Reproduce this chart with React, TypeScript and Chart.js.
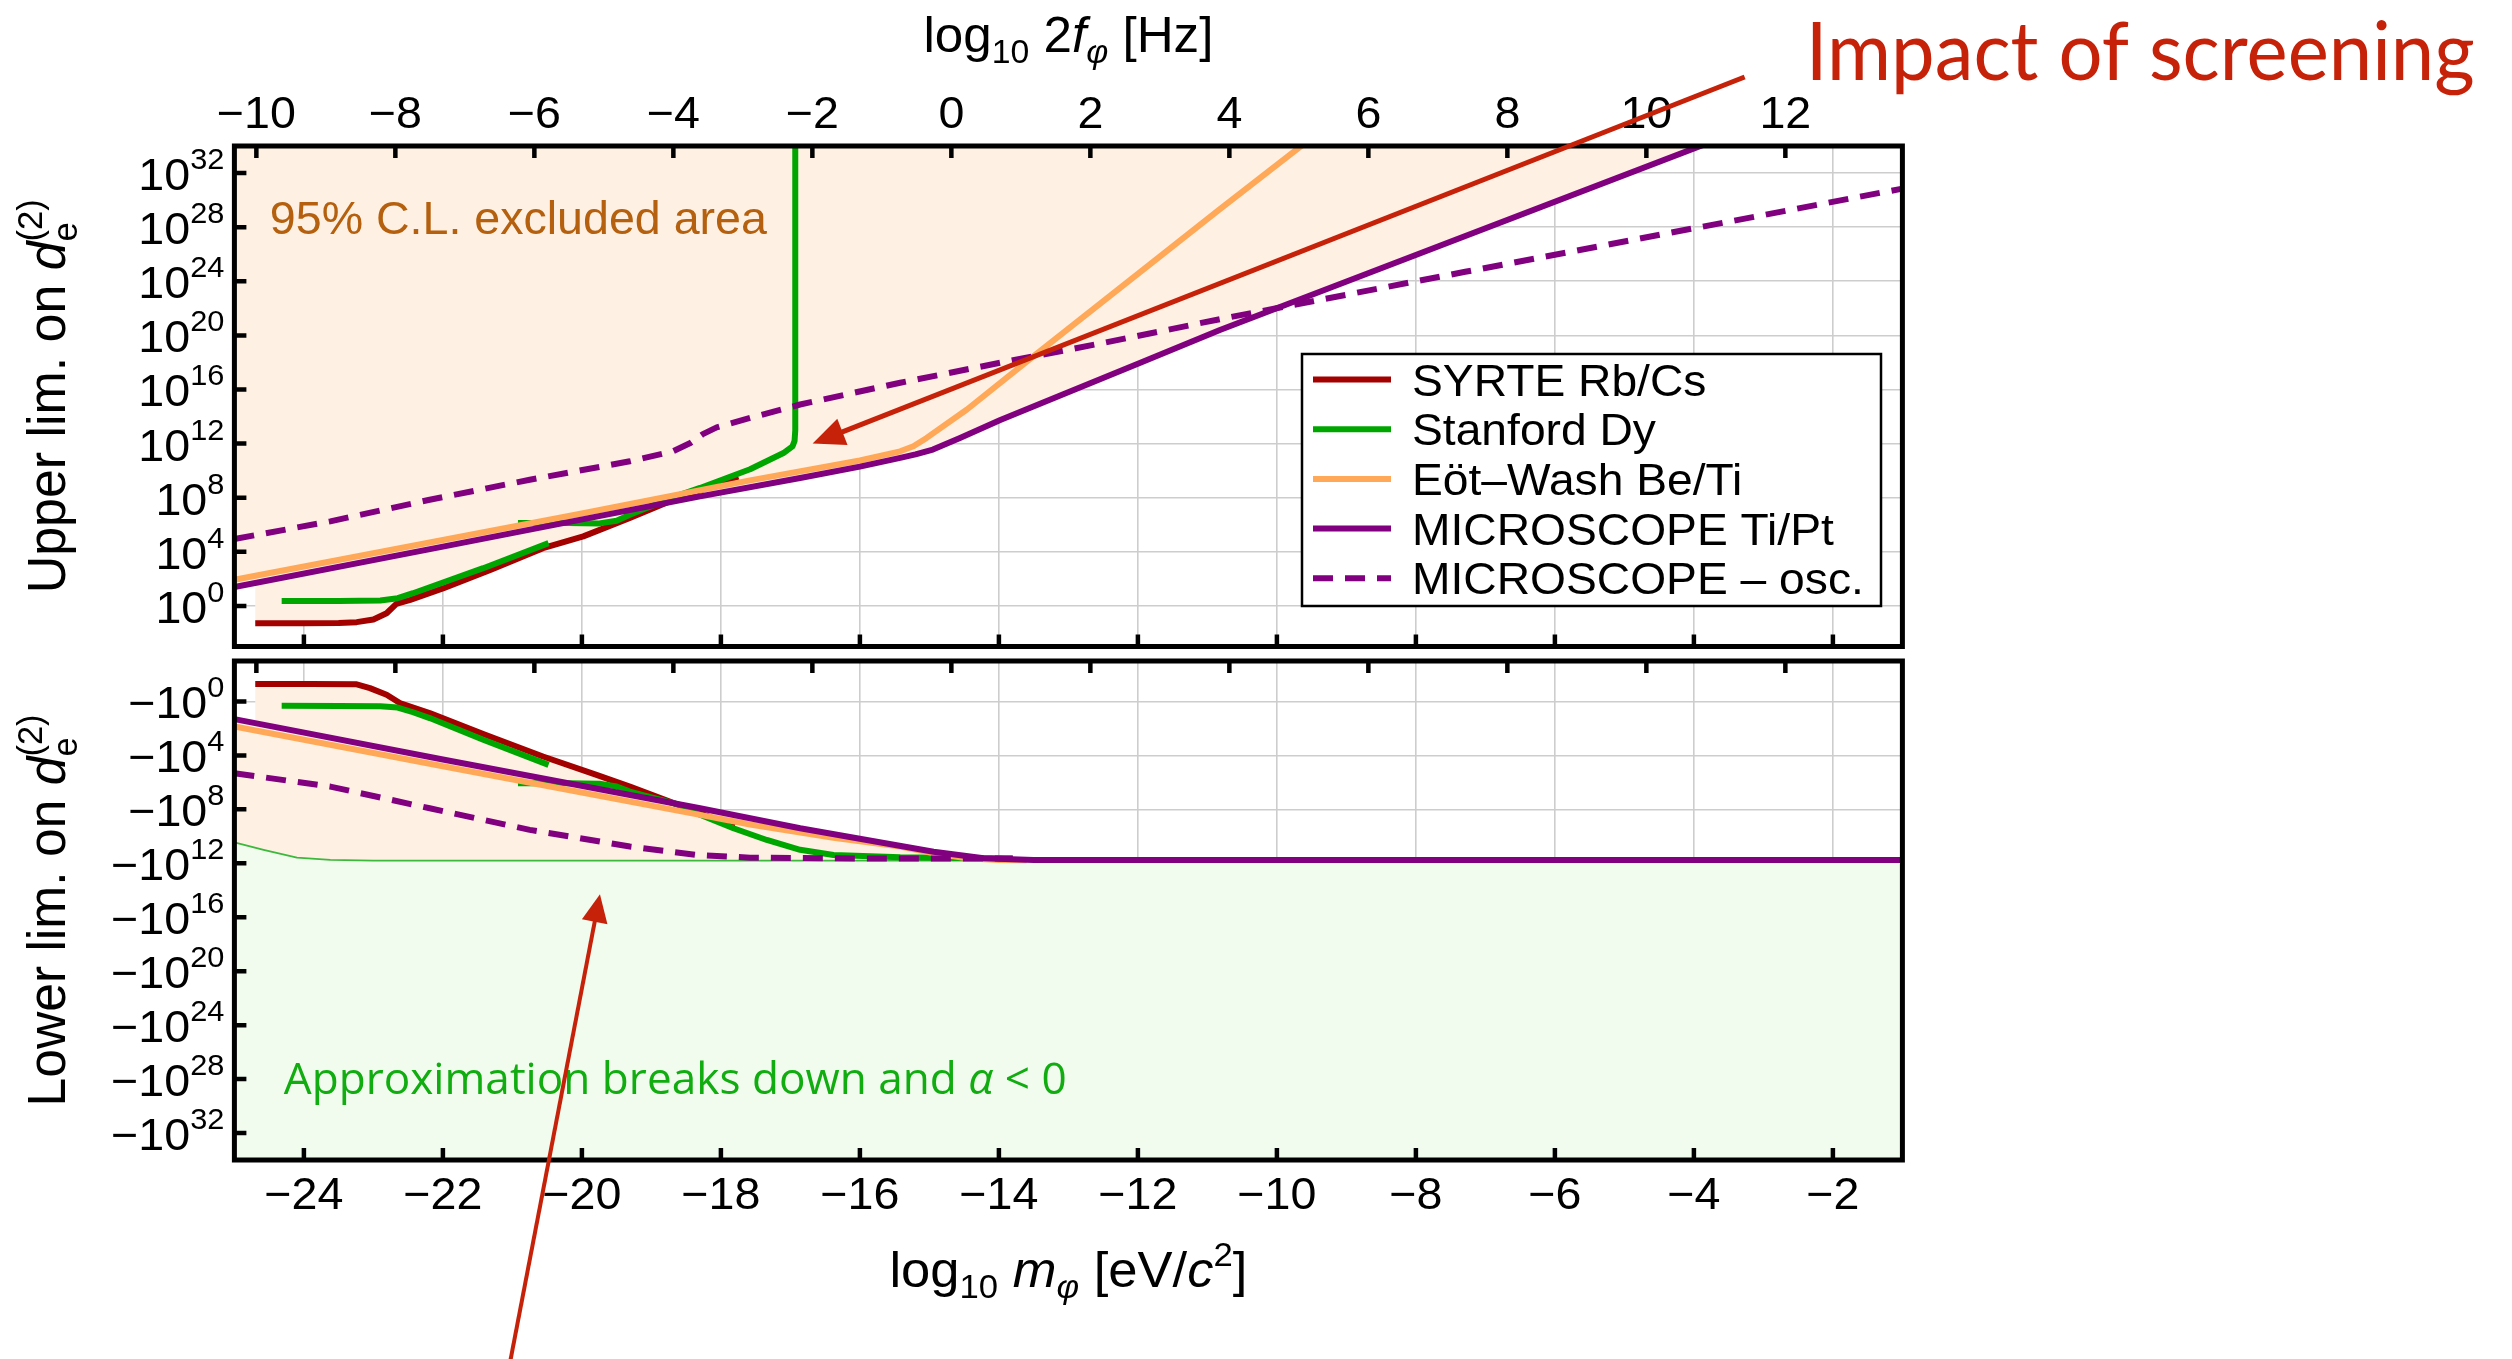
import React, { useEffect, useRef } from 'react';
import { Chart, registerables } from 'chart.js';

Chart.register(...registerables);

const W = 2512;
const H = 1359;

// ---------------- DATA ----------------
// x: log10 m_phi [eV/c^2]; y: exponent n of |d_e^(2)| = 10^n
const syrteUpper: [number, number][] = [
  [-24.7, -1.28], [-24.0, -1.28], [-23.5, -1.27], [-23.24, -1.2], [-23.0, -1.0], [-22.81, -0.54],
  [-22.67, 0.15], [-22.47, 0.45], [-21.99, 1.31], [-21.3, 2.7], [-20.56, 4.27], [-19.98, 5.14],
  [-19.31, 6.5], [-18.68, 7.85], [-17.87, 9.33], [-17.75, 9.55],
];
const stanfordUpperA: [number, number][] = [
  [-24.32, 0.37], [-23.5, 0.37], [-22.9, 0.4], [-22.65, 0.57], [-22.43, 0.94], [-22.19, 1.38],
  [-21.42, 2.79], [-20.48, 4.64],
];
const stanfordUpperB: [number, number][] = [
  [-20.92, 6.13], [-20.2, 6.13], [-19.75, 6.1], [-19.5, 6.3], [-19.31, 6.74], [-18.59, 8.22],
  [-18.3, 8.72], [-17.58, 10.1], [-17.1, 11.3], [-16.97, 11.8], [-16.94, 12.2], [-16.93, 13], [-16.93, 35],
];
const eotWashUpper: [number, number][] = [
  [-25, 1.93], [-22, 4.87], [-20, 6.83], [-17.58, 9.28], [-16, 10.75], [-15.42, 11.43], [-15.23, 11.8],
  [-15.04, 12.42], [-14.46, 14.52], [-13.5, 18.47], [-10.82, 29.33], [-9.5, 34.6],
];
const microscopeUpper: [number, number][] = [
  [-25, 1.4], [-22, 4.38], [-18.3, 8.1], [-16.86, 9.46], [-16, 10.3], [-15.42, 10.94], [-15.2, 11.2],
  [-14.95, 11.56], [-14.56, 12.42], [-13.98, 13.75], [-12, 17.9], [-10.82, 20.4], [-3.5, 34.8],
];
const microscopeOscUpper: [number, number][] = [
  [-25, 4.95], [-23.62, 6.25], [-22.19, 7.85], [-20.75, 9.33], [-19.31, 10.69], [-18.69, 11.43],
  [-18.44, 12.04], [-18.26, 12.7], [-18.06, 13.2], [-17.58, 13.9], [-16.86, 14.89], [-15.42, 16.5],
  [-13.98, 17.98], [-12.54, 19.4], [-10.82, 21.2], [-7.29, 24.7], [-1, 30.85],
];
const excludedEdgeUpper: [number, number][] = [
  [-25, 1.4], [-24.7, 1.7], [-24.7, -1.28], [-24.0, -1.28], [-23.24, -1.2], [-23.0, -1.0], [-22.81, -0.54],
  [-22.67, 0.15], [-22.47, 0.45], [-21.99, 1.31], [-21.3, 2.7], [-20.56, 4.27], [-19.98, 5.14], [-19.31, 6.5],
  [-18.85, 7.5], [-18.3, 8.1], [-16.86, 9.46], [-16, 10.3], [-15.42, 10.94], [-15.2, 11.2], [-14.95, 11.56],
  [-14.56, 12.42], [-13.98, 13.75], [-12, 17.9], [-10.82, 20.4], [-3.5, 34.8],
];

const syrteLower: [number, number][] = [
  [-24.7, -1.29], [-23.9, -1.29], [-23.24, -1.27], [-23.05, -0.99], [-22.81, -0.5], [-22.62, 0.12],
  [-22.19, 0.86], [-21.4, 2.45], [-20.56, 4.08], [-19.79, 5.44], [-19.31, 6.31], [-18.68, 7.54],
  [-17.87, 9.15], [-17.8, 9.25],
];
const stanfordLowerA: [number, number][] = [
  [-24.32, 0.32], [-23.5, 0.33], [-22.9, 0.35], [-22.65, 0.45], [-22.43, 0.8], [-22.19, 1.23],
  [-21.42, 2.84], [-20.48, 4.7],
];
const stanfordLowerB: [number, number][] = [
  [-20.92, 6.06], [-20.2, 6.06], [-19.75, 6.1], [-19.5, 6.3], [-19.31, 6.68], [-18.59, 7.67], [-18.3, 8.4],
  [-17.82, 9.4], [-17.34, 10.27], [-16.86, 11.0], [-16.38, 11.38], [-15.42, 11.55], [-13.8, 11.65],
];
const eotWashLower: [number, number][] = [
  [-25, 1.86], [-22, 4.8], [-20, 6.75], [-18.3, 8.41], [-17.58, 9.12], [-16.38, 10.1], [-15.42, 10.76],
  [-14.9, 11.3], [-14.46, 11.63], [-14.0, 11.75], [-13.6, 11.78],
];
const microscopeLower: [number, number][] = [
  [-25, 1.31], [-22, 4.3], [-18.3, 7.92], [-16.86, 9.4], [-15.9, 10.27], [-14.94, 11.14], [-14.22, 11.63],
  [-13.5, 11.75], [-1, 11.75],
];
const microscopeOscLower: [number, number][] = [
  [-25, 5.32], [-23.62, 6.31], [-22.19, 7.92], [-20.75, 9.52], [-19.31, 10.76], [-18.35, 11.38],
  [-17.58, 11.58], [-16, 11.65], [-13.8, 11.65],
];
const breakdownEdge: [number, number][] = [
  [-25, 10.45], [-24.58, 11.0], [-24.1, 11.58], [-23.62, 11.75], [-23.0, 11.8], [-1, 11.8],
];
const excludedEdgeLower: [number, number][] = [
  [-25, 1.31], [-24.7, 1.6], [-24.7, -1.29], [-23.9, -1.29], [-23.24, -1.27], [-23.05, -0.99], [-22.81, -0.5],
  [-22.62, 0.12], [-22.19, 0.86], [-21.4, 2.45], [-20.56, 4.08], [-19.79, 5.44], [-19.31, 6.31], [-18.7, 7.55],
  [-18.3, 7.92], [-16.86, 9.4], [-15.9, 10.27], [-14.94, 11.14], [-14.22, 11.63], [-13.5, 11.8],
];

// tick values
const massTicks = [-24, -22, -20, -18, -16, -14, -12, -10, -8, -6, -4, -2];
const freqTicks = [-10, -8, -6, -4, -2, 0, 2, 4, 6, 8, 10, 12];
const expTicks = [0, 4, 8, 12, 16, 20, 24, 28, 32];

// annotation arrows: [tail, head] in data coordinates
const screeningArrow: [number, number][] = [[-3.27, 39.1], [-16.68, 12.0]];
const breakdownArrow: [number, number][] = [[-21.03, 48.9], [-19.74, 14.3]];

const legendLabels = ['SYRTE Rb/Cs', 'Stanford Dy', 'Eöt–Wash Be/Ti', 'MICROSCOPE Ti/Pt', 'MICROSCOPE – osc.'];

// axis ranges
const M_MIN = -25;
const M_MAX = -1;
const F_OFFSET = 14.684; // log10(2 f) = log10(m) + log10(2 eV / h)
const E_MIN = -3;
const E_MAX = 34;

// ---------------- STYLE / LAYOUT ----------------
const X_LEFT = 234.4;
const X_RIGHT = 1902.4;
const U_TOP = 146;
const U_BOTTOM = 646.5;
const L_TOP = 661;
const L_BOTTOM = 1160;

const C_SYRTE = 'rgb(163,0,0)';
const C_STANFORD = 'rgb(0,166,0)';
const C_EOT = 'rgb(255,168,88)';
const C_MICRO = 'rgb(128,0,128)';
const C_PEACH = 'rgb(254,240,226)';
const C_GREENFILL = 'rgb(241,252,239)';
const C_GREENLINE = 'rgb(60,185,60)';
const C_GRID = 'rgb(205,205,205)';
const C_ARROW = 'rgb(198,34,10)';
const C_EXCL_TEXT = 'rgb(180,96,14)';
const C_APPROX_TEXT = 'rgb(16,172,16)';

const FONT = '"Liberation Sans", Arial, Helvetica, sans-serif';
const TICK_SX = 1.06;
const LW = 6;

type Run = { t: string; size: number; italic?: boolean; dy?: number; back?: boolean; family?: string };

function fontOf(r: Run) {
  return `${r.italic ? 'italic ' : ''}${r.size}px ${r.family || FONT}`;
}

function layoutRuns(ctx: CanvasRenderingContext2D, runs: Run[]) {
  const pos: number[] = [];
  let cursor = 0;
  runs.forEach((r, i) => {
    ctx.font = fontOf(r);
    const w = ctx.measureText(r.t).width;
    const start = r.back && i > 0 ? pos[i - 1] : cursor;
    pos.push(start);
    cursor = Math.max(cursor, start + w);
  });
  return { pos, width: cursor };
}

function drawRuns(
  ctx: CanvasRenderingContext2D,
  runs: Run[],
  x: number,
  y: number,
  opt: { align?: 'left' | 'center' | 'right'; sx?: number; rotate?: boolean; color?: string; fitWidth?: number } = {}
) {
  ctx.save();
  ctx.translate(x, y);
  if (opt.rotate) ctx.rotate(-Math.PI / 2);
  const { pos, width } = layoutRuns(ctx, runs);
  const ls = opt.fitWidth ? opt.fitWidth / width : opt.rotate ? 1 : opt.sx ?? 1;
  const hs = opt.rotate ? opt.sx ?? 1 : 1;
  ctx.scale(ls, hs);
  const x0 = opt.align === 'center' ? -width / 2 : opt.align === 'right' ? -width : 0;
  ctx.fillStyle = opt.color || '#000';
  ctx.textBaseline = 'alphabetic';
  ctx.textAlign = 'left';
  runs.forEach((r, i) => {
    ctx.font = fontOf(r);
    ctx.fillText(r.t, x0 + pos[i], r.dy || 0);
  });
  ctx.restore();
}

function drawArrow(ctx: CanvasRenderingContext2D, x1: number, y1: number, x2: number, y2: number, lw: number, hl: number, hw: number) {
  const ang = Math.atan2(y2 - y1, x2 - x1);
  const bx = x2 - Math.cos(ang) * hl;
  const by = y2 - Math.sin(ang) * hl;
  ctx.save();
  ctx.strokeStyle = C_ARROW;
  ctx.fillStyle = C_ARROW;
  ctx.lineWidth = lw;
  ctx.beginPath();
  ctx.moveTo(x1, y1);
  ctx.lineTo(bx + Math.cos(ang) * 2, by + Math.sin(ang) * 2);
  ctx.stroke();
  ctx.beginPath();
  ctx.moveTo(x2, y2);
  ctx.lineTo(bx + Math.sin(ang) * hw, by - Math.cos(ang) * hw);
  ctx.lineTo(bx - Math.sin(ang) * hw, by + Math.cos(ang) * hw);
  ctx.closePath();
  ctx.fill();
  ctx.restore();
}

const signed = (v: number) => (v < 0 ? '\u2212' + Math.abs(v) : String(v));

function lineDS(label: string, pts: [number, number][], color: string, extra: any = {}) {
  return {
    label,
    data: pts.map(([x, y]) => ({ x, y })),
    borderColor: color,
    backgroundColor: color,
    borderWidth: LW,
    pointRadius: 0,
    pointHoverRadius: 0,
    tension: 0,
    fill: false,
    clip: 0,
    borderJoinStyle: 'round',
    ...extra,
  };
}

const setTicks = (vals: number[]) => (s: any) => {
  s.ticks = vals.map((v) => ({ value: v }));
};

function scalesFor(upper: boolean) {
  const grid = { color: C_GRID, lineWidth: 1.6, drawTicks: false };
  return {
    x: {
      type: 'linear', position: 'bottom', min: M_MIN, max: M_MAX,
      ticks: { display: false },
      afterBuildTicks: setTicks(massTicks),
      grid, border: { display: false },
      afterFit: (s: any) => { s.height = upper ? 0 : H - L_BOTTOM; },
    },
    x2: {
      type: 'linear', position: 'top', min: M_MIN + F_OFFSET, max: M_MAX + F_OFFSET,
      ticks: { display: false },
      afterBuildTicks: setTicks(freqTicks),
      grid: { display: false, drawTicks: false }, border: { display: false },
      afterFit: (s: any) => { s.height = upper ? U_TOP : L_TOP; },
    },
    y: {
      type: 'linear', position: 'left', min: E_MIN, max: E_MAX, reverse: !upper,
      ticks: { display: false },
      afterBuildTicks: setTicks(expTicks),
      grid, border: { display: false },
      afterFit: (s: any) => { s.width = X_LEFT; },
    },
  };
}

function panelPlugin(upper: boolean) {
  return {
    id: upper ? 'upperPanel' : 'lowerPanel',
    afterDraw(chart: any) {
      const ctx: CanvasRenderingContext2D = chart.ctx;
      const { left, right, top, bottom } = chart.chartArea;
      const xs = chart.scales.x;
      const x2 = chart.scales.x2;
      const ys = chart.scales.y;
      ctx.save();
      // frame
      ctx.strokeStyle = '#000';
      ctx.lineWidth = 5;
      ctx.strokeRect(left, top, right - left, bottom - top);
      // inward ticks
      ctx.lineWidth = 4.5;
      ctx.beginPath();
      for (const t of x2.ticks) {
        const px = x2.getPixelForValue(t.value);
        ctx.moveTo(px, top); ctx.lineTo(px, top + 12);
      }
      for (const t of xs.ticks) {
        const px = xs.getPixelForValue(t.value);
        ctx.moveTo(px, bottom); ctx.lineTo(px, bottom - 12);
      }
      for (const t of ys.ticks) {
        const py = ys.getPixelForValue(t.value);
        ctx.moveTo(left, py); ctx.lineTo(left + 12, py);
      }
      ctx.stroke();
      ctx.restore();

      // y tick labels
      for (const t of ys.ticks) {
        const py = ys.getPixelForValue(t.value);
        drawRuns(ctx, [
          { t: upper ? '10' : '\u221210', size: 44 },
          { t: String(t.value), size: 29, dy: -21 },
        ], left - 10, py + 17, { align: 'right', sx: TICK_SX });
      }
      const cx = (left + right) / 2;
      if (upper) {
        for (const t of x2.ticks) {
          drawRuns(ctx, [{ t: signed(t.value), size: 44 }], x2.getPixelForValue(t.value), top - 18, { align: 'center', sx: TICK_SX });
        }
        drawRuns(ctx, [
          { t: 'log', size: 50 }, { t: '10', size: 33, dy: 11 }, { t: ' 2', size: 50 },
          { t: 'f', size: 50, italic: true }, { t: 'φ', size: 33, italic: true, dy: 11 }, { t: ' [Hz]', size: 50 },
        ], cx, 52, { align: 'center', fitWidth: 290 });
        drawRuns(ctx, [
          { t: 'Upper lim. on ', size: 48 }, { t: 'd', size: 48, italic: true },
          { t: 'e', size: 32, dy: 11 }, { t: '(2)', size: 32, dy: -21, back: true },
        ], 65, (top + bottom) / 2, { rotate: true, align: 'center', sx: 1.1, fitWidth: 394 });

        // excluded-area label
        drawRuns(ctx, [{ t: '95% C.L. excluded area', size: 46 }], xs.getPixelForValue(-24.49), ys.getPixelForValue(27.5),
          { color: C_EXCL_TEXT, fitWidth: 497 });

        // legend
        const bx = 1302, by = 354, bw = 579, bh = 252;
        ctx.save();
        ctx.fillStyle = '#fff';
        ctx.fillRect(bx, by, bw, bh);
        ctx.strokeStyle = '#000';
        ctx.lineWidth = 2.5;
        ctx.strokeRect(bx, by, bw, bh);
        const entries = chart.data.datasets.filter((d: any) => d.legendIndex !== undefined)
          .sort((a: any, b: any) => a.legendIndex - b.legendIndex);
        entries.forEach((d: any, i: number) => {
          const ry = 379.5 + i * 49.7;
          ctx.strokeStyle = d.borderColor;
          ctx.lineWidth = LW;
          ctx.setLineDash(d.borderDash || []);
          ctx.beginPath();
          ctx.moveTo(1313, ry); ctx.lineTo(1391, ry);
          ctx.stroke();
          ctx.setLineDash([]);
          drawRuns(ctx, [{ t: d.label, size: 44 }], 1412, ry + 16, { sx: 1.05 });
        });
        ctx.restore();

        // screening annotation
        const [tail, head] = screeningArrow;
        drawArrow(ctx, xs.getPixelForValue(tail[0]), ys.getPixelForValue(tail[1]),
          xs.getPixelForValue(head[0]), ys.getPixelForValue(head[1]), 5, 32, 14);
        drawRuns(ctx, [{ t: 'Impact of screening', size: 82, family: 'Lato, "Open Sans", sans-serif' }],
          xs.getPixelForValue(-2.39), ys.getPixelForValue(38.87), { color: C_ARROW, fitWidth: 669 });
      } else {
        for (const t of xs.ticks) {
          drawRuns(ctx, [{ t: signed(t.value), size: 44 }], xs.getPixelForValue(t.value), bottom + 49, { align: 'center', sx: TICK_SX });
        }
        drawRuns(ctx, [
          { t: 'log', size: 50 }, { t: '10', size: 33, dy: 11 }, { t: ' ', size: 50 },
          { t: 'm', size: 50, italic: true }, { t: 'φ', size: 33, italic: true, dy: 11 }, { t: ' [eV/', size: 50 },
          { t: 'c', size: 50, italic: true }, { t: '2', size: 33, dy: -21 }, { t: ']', size: 50 },
        ], cx, 1287, { align: 'center', fitWidth: 358 });
        drawRuns(ctx, [
          { t: 'Lower lim. on ', size: 48 }, { t: 'd', size: 48, italic: true },
          { t: 'e', size: 32, dy: 11 }, { t: '(2)', size: 32, dy: -21, back: true },
        ], 65, (top + bottom) / 2, { rotate: true, align: 'center', sx: 1.1, fitWidth: 392 });

        drawRuns(ctx, [
          { t: 'Approximation breaks down and ', size: 44, family: '"Open Sans", sans-serif' },
          { t: 'α', size: 44, italic: true, family: '"Open Sans", sans-serif' },
          { t: ' < 0', size: 44, family: '"Open Sans", sans-serif' },
        ], xs.getPixelForValue(-24.29), ys.getPixelForValue(29.12), { color: C_APPROX_TEXT, fitWidth: 783 });

        const [tail, head] = breakdownArrow;
        drawArrow(ctx, xs.getPixelForValue(tail[0]), ys.getPixelForValue(tail[1]),
          xs.getPixelForValue(head[0]), ys.getPixelForValue(head[1]), 4, 28, 13);
      }
    },
  };
}

function makeConfig(upper: boolean): any {
  const osc = upper ? microscopeOscUpper : microscopeOscLower;
  const micro = upper ? microscopeUpper : microscopeLower;
  const eot = upper ? eotWashUpper : eotWashLower;
  const stA = upper ? stanfordUpperA : stanfordLowerA;
  const stB = upper ? stanfordUpperB : stanfordLowerB;
  const sy = upper ? syrteUpper : syrteLower;
  const datasets: any[] = [
    lineDS(legendLabels[4], osc, C_MICRO, { borderDash: [20, 12], legendIndex: upper ? 4 : undefined }),
    lineDS(legendLabels[3], micro, C_MICRO, { legendIndex: upper ? 3 : undefined }),
    lineDS(legendLabels[2], eot, C_EOT, { legendIndex: upper ? 2 : undefined }),
    lineDS(legendLabels[1], stB, C_STANFORD),
    lineDS(legendLabels[1], stA, C_STANFORD, { legendIndex: upper ? 1 : undefined }),
    lineDS(legendLabels[0], sy, C_SYRTE, { legendIndex: upper ? 0 : undefined }),
  ];
  if (upper) {
    datasets.push(lineDS('excluded', excludedEdgeUpper, 'rgba(0,0,0,0)', {
      borderWidth: 0, fill: 'end', backgroundColor: C_PEACH,
    }));
  } else {
    datasets.push(lineDS('breakdown', breakdownEdge, C_GREENLINE, {
      borderWidth: 1.8, fill: 'start', backgroundColor: C_GREENFILL,
    }));
    datasets.push(lineDS('excluded', excludedEdgeLower, 'rgba(0,0,0,0)', {
      borderWidth: 0, fill: 'start', backgroundColor: C_PEACH,
    }));
  }
  return {
    type: 'line',
    data: { datasets },
    options: {
      animation: false,
      responsive: false,
      devicePixelRatio: 1,
      events: [],
      layout: {
        autoPadding: false,
        padding: { left: 0, top: 0, right: W - X_RIGHT, bottom: upper ? H - U_BOTTOM : 0 },
      },
      plugins: { legend: { display: false }, tooltip: { enabled: false }, title: { display: false } },
      scales: scalesFor(upper),
    },
    plugins: [panelPlugin(upper)],
  };
}

export default function App() {
  const upRef = useRef<HTMLCanvasElement>(null);
  const loRef = useRef<HTMLCanvasElement>(null);
  useEffect(() => {
    const c1 = new Chart(upRef.current as HTMLCanvasElement, makeConfig(true));
    const c2 = new Chart(loRef.current as HTMLCanvasElement, makeConfig(false));
    return () => {
      c1.destroy();
      c2.destroy();
    };
  }, []);
  const cs: React.CSSProperties = { position: 'absolute', left: 0, top: 0, width: W, height: H, display: 'block' };
  return (
    <div style={{ position: 'fixed', left: 0, top: 0, width: W, height: H, background: '#fff', overflow: 'hidden' }}>
      <canvas ref={loRef} width={W} height={H} style={cs} />
      <canvas ref={upRef} width={W} height={H} style={cs} />
    </div>
  );
}
